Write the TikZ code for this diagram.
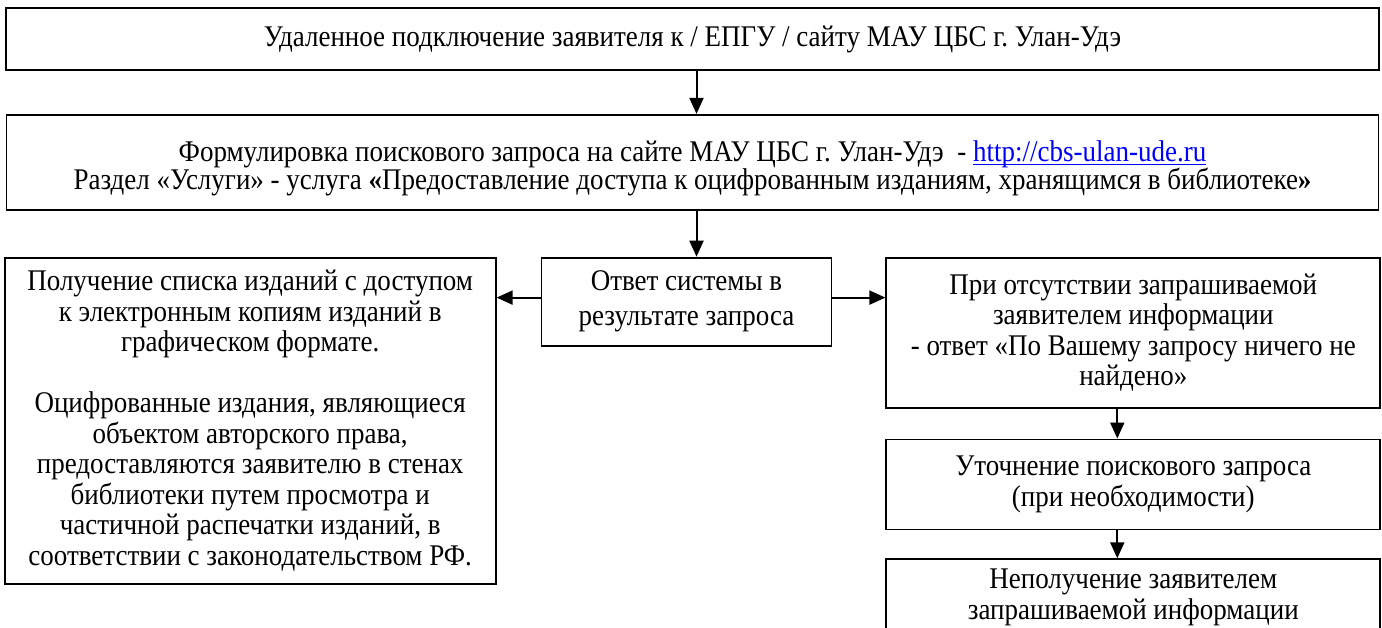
\documentclass[tikz,border=0pt]{standalone}
\usepackage{fontspec}
\setmainfont{Liberation Serif}[FakeStretch=0.9]
\usetikzlibrary{positioning,arrows.meta}
\frenchspacing
\newcommand\tightlines{\lineskiplimit=-10pt\relax}
\newcommand\weblink[1]{{\color{blue}\setbox0\hbox{#1}\rlap{\rule[-1.6pt]{\wd0}{0.6pt}}\box0}}

\begin{document}
\begin{tikzpicture}[main/.style={draw, line width=0.9pt, align=center, inner sep=2pt, font=\fontsize{15}{15.25}\selectfont},
    arr/.style={line width=1pt, -{Triangle[length=8pt,width=7pt]}}]
    \useasboundingbox (0,0) rectangle (691pt,-313.5pt);

    \node[main, minimum width=686.5pt, minimum height=31pt] (1) at (346.25pt,-19.5pt)
    {Удаленное подключение заявителя к / ЕПГУ / сайту МАУ ЦБС г. Улан-Удэ};
    \node[main, minimum width=686pt, minimum height=47.5pt, font=\fontsize{15}{14}\selectfont\tightlines] (2) [below=21.5pt of 1]
    {\rule{0pt}{16.5pt}Формулировка поискового запроса на сайте МАУ ЦБС г. Улан-Удэ~ - \weblink{http://cbs-ulan-ude.ru}\\
    Раздел «Услуги» - услуга \textbf{«}Предоставление доступа к оцифрованным изданиям, хранящимся в библиотеке\textbf{»}};

    \node[main, minimum width=145pt, minimum height=44pt, font=\fontsize{15}{17.5}\selectfont] (3) [below=23pt of 2, xshift=-3pt]
    {Ответ системы в\\ результате запроса};

    \node[main, minimum width=245.5pt, minimum height=163pt, anchor=north east] (4) at ([xshift=-22pt]3.north west)
    {Получение списка изданий с доступом\\
    к электронным копиям изданий в\\
    графическом формате.\\[15.25pt]
    Оцифрованные издания, являющиеся\\
    объектом авторского права,\\
    предоставляются заявителю в стенах\\
    библиотеки путем просмотра и\\
    частичной распечатки изданий, в\\
    соответствии с законодательством РФ.};

    \node[main, minimum width=247pt, minimum height=75pt, anchor=north west] (5) at ([xshift=26.5pt]3.north east)
    {При отсутствии запрашиваемой\\
    заявителем информации\\
    - ответ «По Вашему запросу ничего не\\
    найдено»};
    \node[main, minimum width=247pt, minimum height=45pt] (6) [below=15pt of 5]
    {Уточнение поискового запроса\\ (при необходимости)};
    \node[main, minimum width=247pt, minimum height=38pt] (7) [below=14pt of 6]
    {Неполучение заявителем\\ запрашиваемой информации};

    \draw[arr] ([xshift=2pt]1.south) -- ([xshift=2pt]2.north);
    \draw[arr] ([xshift=5pt]3.north |- 2.south) -- ([xshift=5pt]3.north);
    \draw[arr] ([yshift=2pt]3.west) -- ([yshift=2pt]3.west -| 4.east);
    \draw[arr] ([yshift=2pt]3.east) -- ([yshift=2pt]3.east -| 5.west);
    \draw[arr] ([xshift=-8pt]5.south) -- ([xshift=-8pt]6.north);
    \draw[arr] ([xshift=-8pt]6.south) -- ([xshift=-8pt]7.north);
\end{tikzpicture}
\end{document}
